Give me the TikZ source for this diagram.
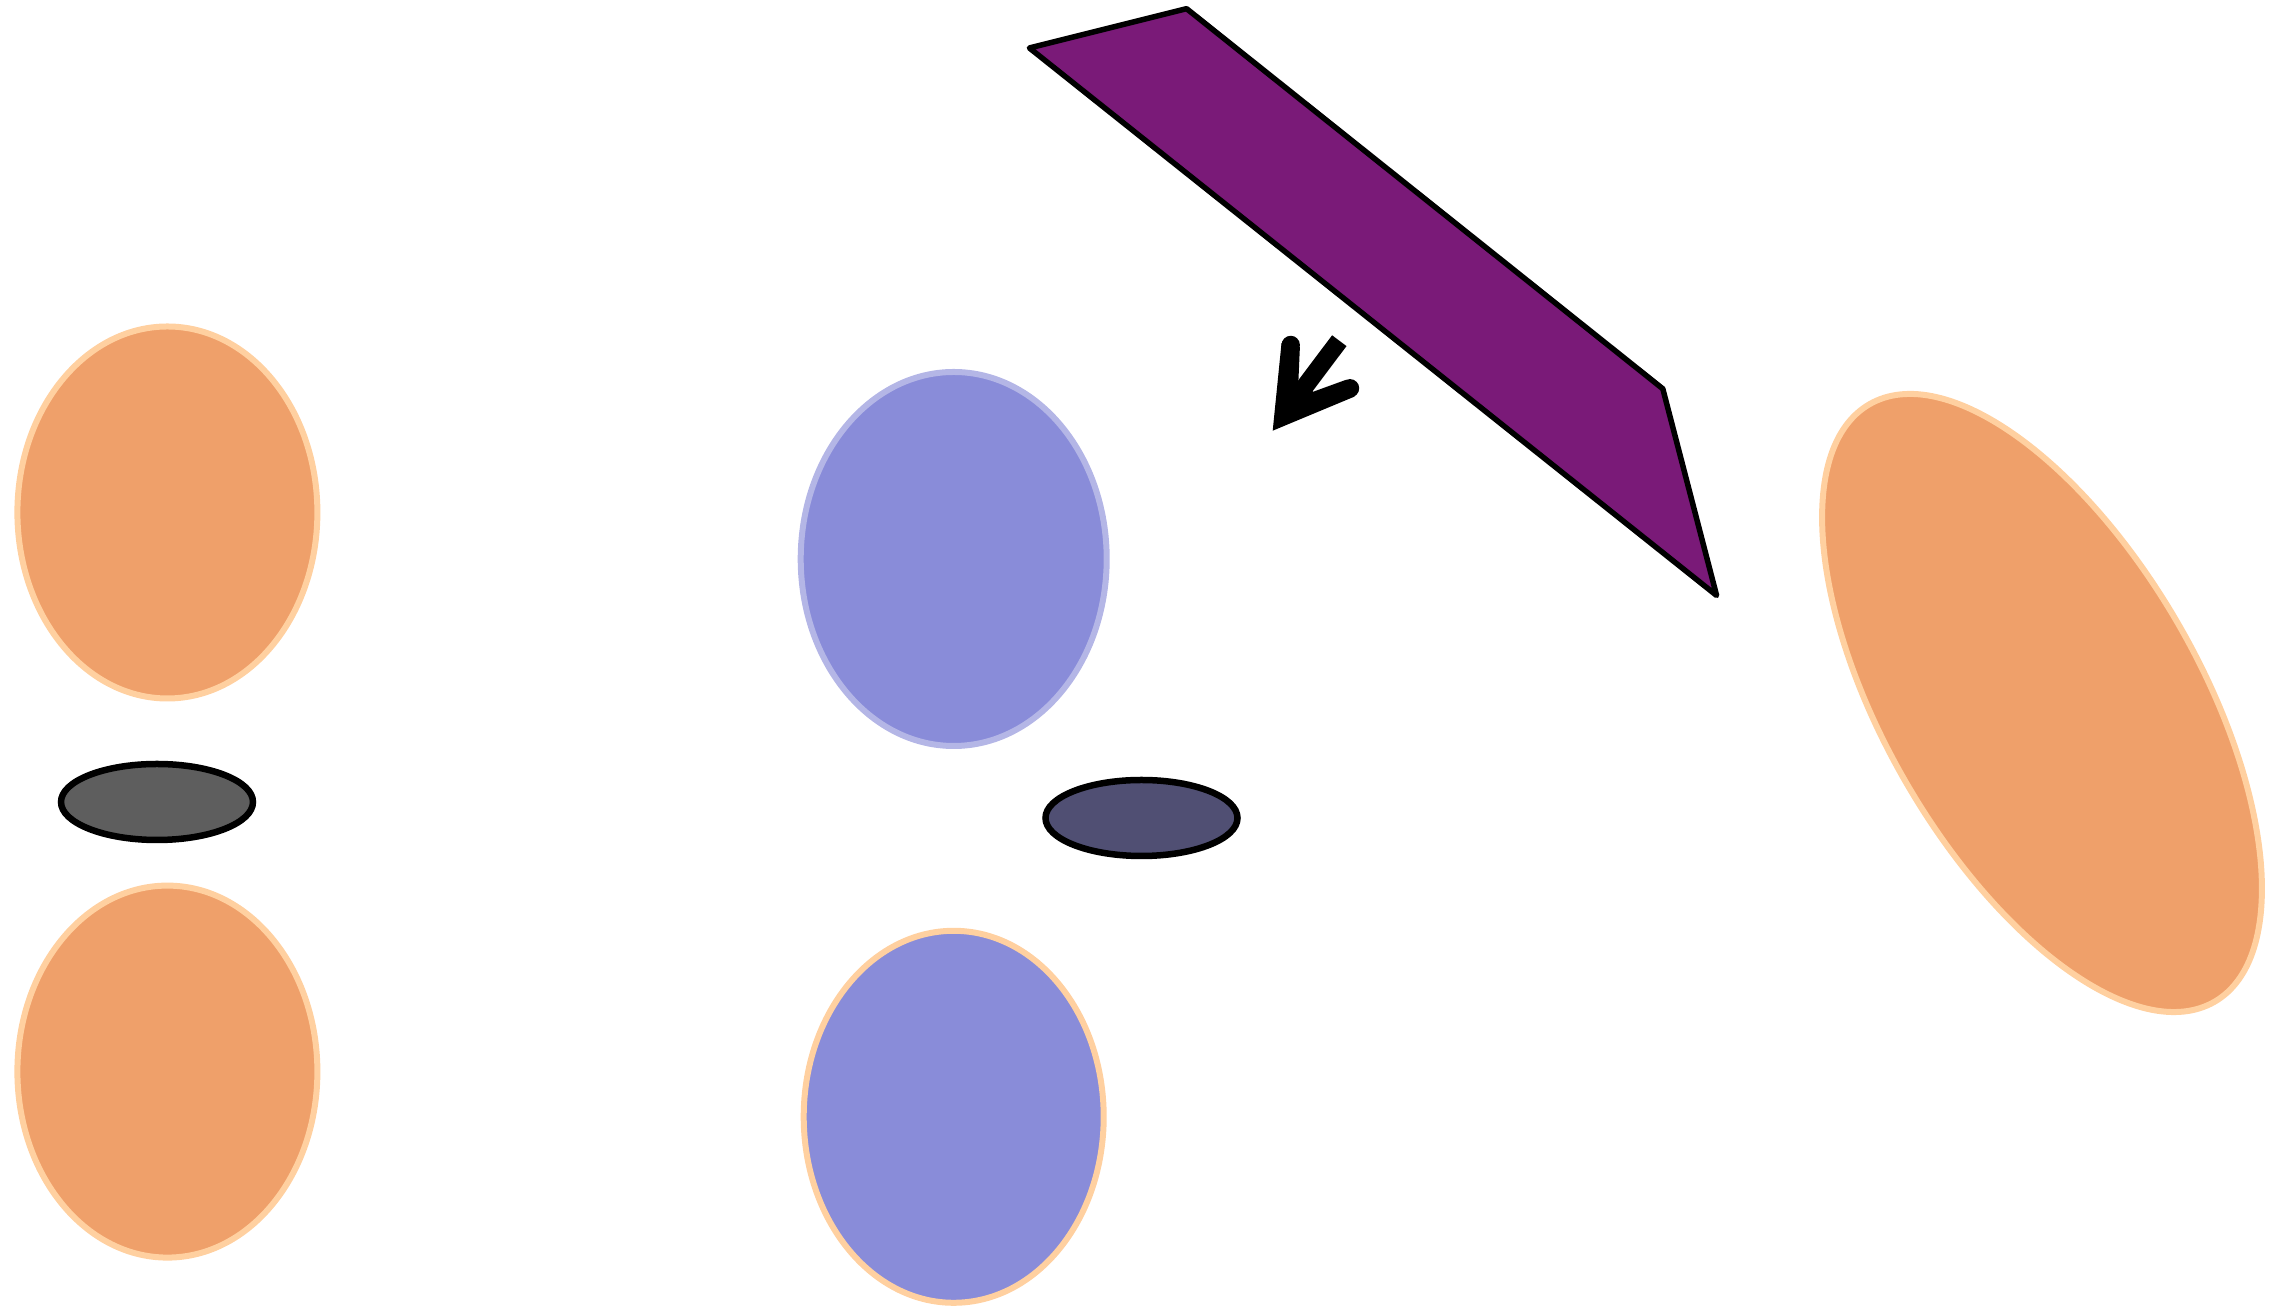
\documentclass[tikz,border=0pt]{standalone}
\usepackage{xcolor}
\usepackage{tikz}
\usetikzlibrary{shapes.geometric,positioning,calc}

\definecolor{lobeorange}{RGB}{239,160,106}
\definecolor{lobepeach}{RGB}{255,208,160}
\definecolor{lobeblue}{RGB}{137,140,217}
\definecolor{lobeblueedge}{RGB}{180,182,230}
\definecolor{coregray}{RGB}{94,94,94}
\definecolor{corenavy}{RGB}{80,79,115}
\definecolor{planepurple}{RGB}{122,26,120}

\begin{document}
\begin{tikzpicture}[
  lobe/.style={ellipse, inner sep=0pt, minimum width=3cm, minimum height=3.72cm,
               line width=0.06cm},
  orangelobe/.style={lobe, draw=lobepeach, fill=lobeorange},
  bluelobe/.style={lobe, draw=lobeblueedge, fill=lobeblue},
  core/.style={ellipse, inner sep=0pt, minimum width=1.92cm, minimum height=0.76cm,
               draw=black, line width=0.065cm},
  plane/.style={draw=black, fill=planepurple, line width=0.055cm, line join=round}
]
  \useasboundingbox (0,0) rectangle (22.83,13.08);

  % left orbital
  \node[orangelobe] (ltop) at (1.674,7.955) {};
  \node[orangelobe] (lbot) at (1.674,2.364) {};
  \node[core, fill=coregray] (lcore) at (1.57,5.06) {};

  % middle orbital
  \node[bluelobe, minimum width=3.06cm, minimum height=3.74cm] (mtop) at (9.537,7.49) {};
  \node[lobe, draw=lobepeach, fill=lobeblue] (mbot) at (9.537,1.912) {};
  \node[core, fill=corenavy] (mcore) at (11.415,4.90) {};

  % tilted lobe
  \node[orangelobe, minimum width=3.15cm, minimum height=6.9cm, rotate=30] (rlobe) at (20.42,6.05) {};

  % plane
  \coordinate (p1) at (10.294,12.60);
  \coordinate (p2) at (11.866,12.993);
  \coordinate (p3) at (16.628,9.192);
  \coordinate (p4) at (17.166,7.125);
  \draw[plane] (p1) -- (p2) -- (p3) -- (p4) -- cycle;

  % arrow
  \coordinate (atop) at (13.393,9.673);
  \coordinate (ashaft) at (13.0,9.15);
  \coordinate (atip) at (12.727,8.773);
  \coordinate (abl) at (12.907,9.63);
  \coordinate (abr) at (13.50,9.197);
  \draw[line width=0.18cm] (atop) -- (ashaft);
  \fill (atip) -- (12.815,9.648) -- (12.999,9.612) -- (12.983,9.247)
        -- (13.133,9.163) -- (13.455,9.280) -- (13.545,9.114) -- cycle;
  \fill (abl) circle (0.092) (abr) circle (0.092);
\end{tikzpicture}
\end{document}
